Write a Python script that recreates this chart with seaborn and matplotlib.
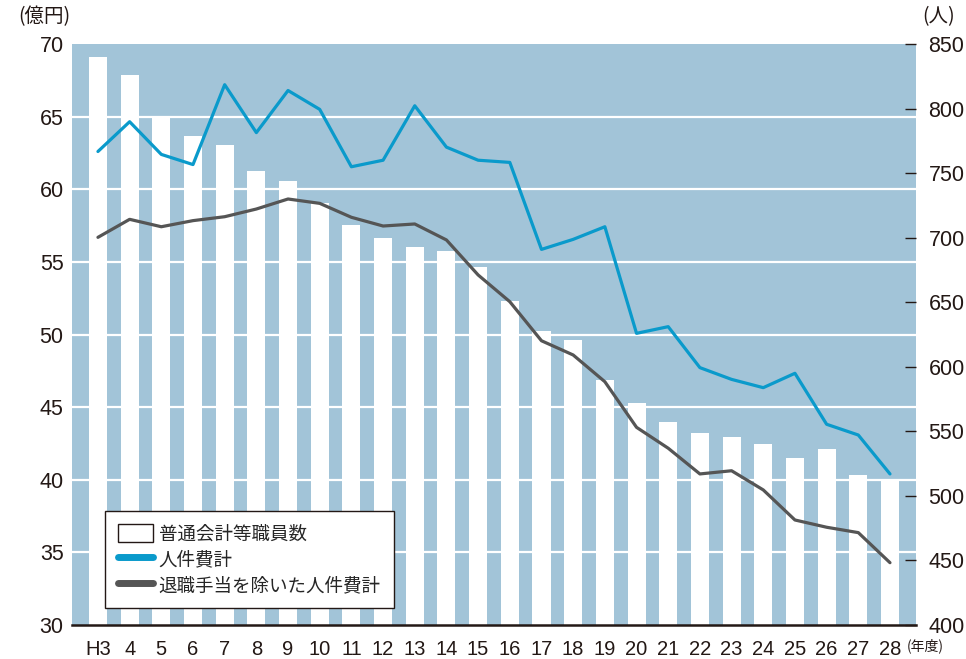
import numpy as np
import pandas as pd
import matplotlib
matplotlib.use("Agg")
import matplotlib.pyplot as plt
from matplotlib.lines import Line2D
import matplotlib.patches as mpatches
import seaborn as sns

# ── Data ──────────────────────────────────────────────────────────────────────
years = ["H3", "4", "5", "6", "7", "8", "9", "10", "11", "12", "13", "14", "15",
         "16", "17", "18", "19", "20", "21", "22", "23", "24", "25", "26", "27", "28"]

staff = [840, 826, 794, 779, 772, 752, 744, 727, 710, 700, 693, 690, 677,
         651, 628, 621, 590, 572, 557, 549, 546, 540, 529, 536, 516, 513]

personnel_cost = [62.6, 64.65, 62.4, 61.7, 67.2, 63.9, 66.8, 65.5, 61.55, 62.0,
                  65.75, 62.9, 62.0, 61.85, 55.86, 56.55, 57.42, 50.08, 50.54,
                  47.72, 46.91, 46.34, 47.33, 43.82, 43.08, 40.4]

cost_excl_retire = [56.69, 57.93, 57.42, 57.84, 58.11, 58.64, 59.33, 59.03, 58.07,
                    57.47, 57.61, 56.51, 54.1, 52.26, 49.57, 48.59, 46.75, 43.61,
                    42.17, 40.4, 40.62, 39.3, 37.23, 36.73, 36.36, 34.29]

left_ticks = [30, 35, 40, 45, 50, 55, 60, 65, 70]
right_ticks = [400, 450, 500, 550, 600, 650, 700, 750, 800, 850]

legend_labels = ["普通会計等職員数", "人件費計", "退職手当を除いた人件費計"]

# ── Style ─────────────────────────────────────────────────────────────────────
sns.set_style("white")
plt.rcParams["font.family"] = ["Liberation Sans Narrow", "Liberation Sans",
                               "Noto Sans CJK JP", "DejaVu Sans"]

BG = "#A2C4D8"
BLUE = "#0A9ACB"
DARK = "#555555"
INK = "#231815"
JP = ["Noto Sans CJK JP", "DejaVu Sans"]

df = pd.DataFrame({
    "pos": np.arange(len(years)),
    "year": years,
    "staff": staff,
    "cost": personnel_cost,
    "cost_ex": cost_excl_retire,
})

fig = plt.figure(figsize=(9.66, 6.59), dpi=100)
ax = fig.add_axes([0.0745, 0.0516, 0.8737, 0.8816])
ax2 = ax.twinx()

# bars on the right axis (persons)
sns.barplot(data=df, x="pos", y="staff", color="white", width=0.57,
            saturation=1, ax=ax2, native_scale=True, linewidth=0)
ax2.set_ylim(400, 850)
ax2.set_yticks(right_ticks)
ax2.patch.set_visible(True)
ax2.set_facecolor(BG)

# lines on the left axis (100M yen), drawn above the bars
ax.set_zorder(ax2.get_zorder() + 1)
ax.patch.set_visible(False)
sns.lineplot(data=df, x="pos", y="cost", color=BLUE, lw=2.3, ax=ax)
sns.lineplot(data=df, x="pos", y="cost_ex", color=DARK, lw=2.3, ax=ax)
ax.set_ylim(30, 70)
ax.set_yticks(left_ticks)
ax.set_xlim(-0.82, len(years) - 1 + 0.82)
ax.set_xticks(df["pos"])
ax.set_xticklabels(years)
ax.set_xlabel("")
ax.set_ylabel("")
ax2.set_xlabel("")
ax2.set_ylabel("")

# white horizontal gridlines at left-axis ticks
for v in left_ticks[1:-1]:
    ax.axhline(v, color="white", lw=1.6, zorder=0.5)

for a in (ax, ax2):
    for s in a.spines.values():
        s.set_visible(False)
ax.spines["bottom"].set_visible(True)
ax.spines["bottom"].set_color(INK)
ax.spines["bottom"].set_linewidth(1.8)

ax.tick_params(axis="y", length=0, labelsize=15.5, pad=6, colors=INK)
ax.tick_params(axis="x", length=0, labelsize=14.5, pad=11, colors=INK)
ax2.tick_params(axis="y", direction="in", length=8, width=1, color=INK,
                labelsize=15.5, pad=9, labelcolor=INK)

# unit labels
fig.text(18 / 966, 1 - 17 / 659, "(億円)", family=JP, fontsize=14,
         color=INK, va="center", ha="left")
fig.text(955 / 966, 1 - 17 / 659, "(人)", family=JP, fontsize=14,
         color=INK, va="center", ha="right")
fig.text(907 / 966, 1 - 646 / 659, "(年度)", family=JP, fontsize=10,
         color=INK, va="center", ha="left")

handles = [
    mpatches.Patch(facecolor="white", edgecolor=INK, lw=1.0),
    Line2D([0], [0], color=BLUE, lw=5),
    Line2D([0], [0], color=DARK, lw=5),
]
leg = ax.legend(handles, legend_labels, loc="lower left",
                bbox_to_anchor=(0.039, 0.029), frameon=True, fancybox=False,
                prop={"family": JP, "size": 13.3}, handlelength=1.9,
                handleheight=1.1, handletextpad=0.3, labelspacing=0.36,
                borderpad=0.72, borderaxespad=0, framealpha=1)
leg.get_frame().set_edgecolor(INK)
leg.get_frame().set_linewidth(1.0)

fig.savefig("out.png", dpi=100)
